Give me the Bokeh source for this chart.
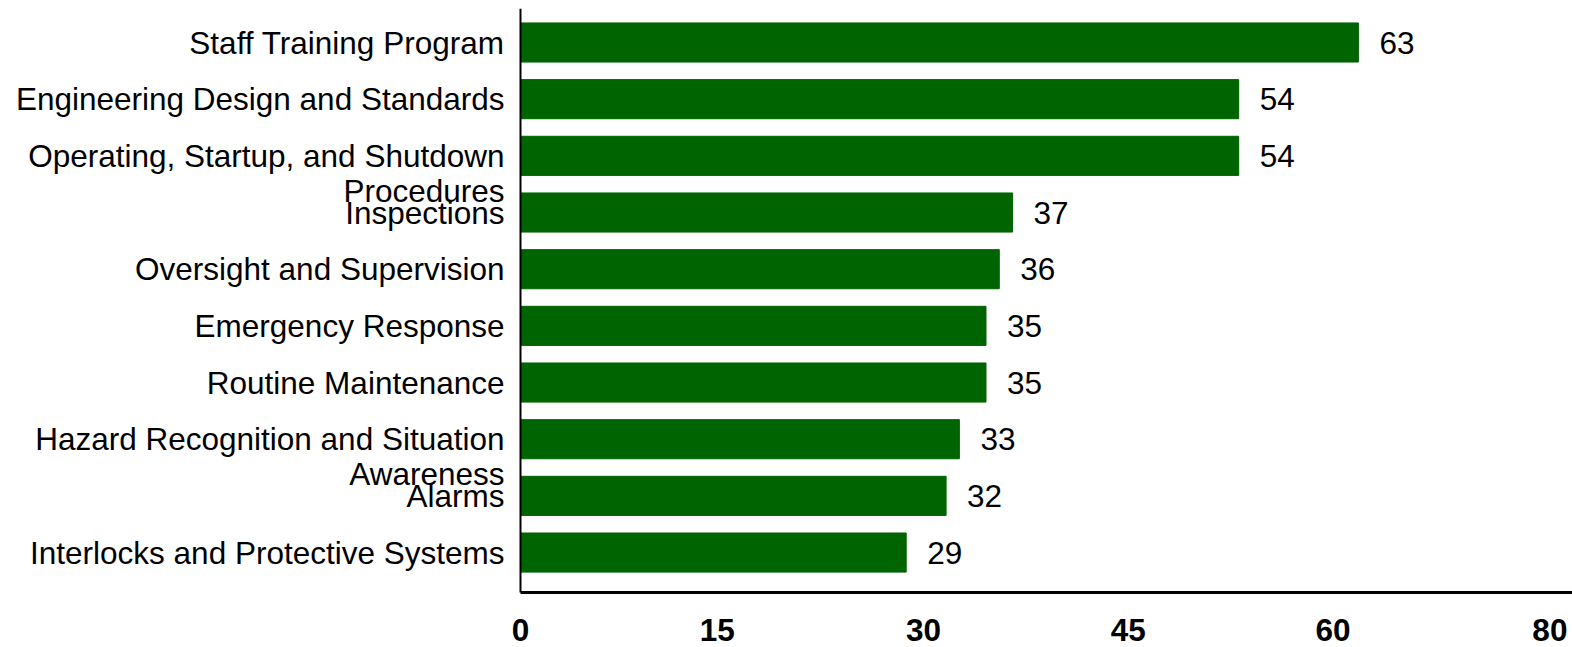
from bokeh.plotting import figure
from bokeh.models import Range1d, Label, ColumnDataSource, FixedTicker, AllLabels
from bokeh.embed import file_html
from bokeh.resources import INLINE

categories = [
    "Staff Training Program",
    "Engineering Design and Standards",
    "Operating, Startup, and Shutdown\nProcedures",
    "Inspections",
    "Oversight and Supervision",
    "Emergency Response",
    "Routine Maintenance",
    "Hazard Recognition and Situation\nAwareness",
    "Alarms",
    "Interlocks and Protective Systems",
]
values = [63, 54, 54, 37, 36, 35, 35, 33, 32, 29]
tick_labels = ["0", "15", "30", "45", "60", "80"]
tick_positions = [0, 14.8, 30.3, 45.7, 61.1, 77.4]

n = len(categories)
ys = [n - 1 - i for i in range(n)]
LINE_STEP = 0.618  # second line of a wrapped label, in category units

# layout geometry (pixels)
W, H, TOP, AXIS_PX = 1572, 647, 8, 592
ZERO_PX, FRAME_LEFT = 520, 505
x_end = 79.1
ux = (W - ZERO_PX) / x_end
x_start = -(ZERO_PX - FRAME_LEFT) / ux

y_top = n - 0.4
y0 = -0.705
uy = (AXIS_PX - TOP) / (y_top - y0)
y_start = y0 - (H - AXIS_PX) / uy

ytick_pos = []
ytick_txt = {}
for yi, c in zip(ys, categories):
    for k, part in enumerate(c.split("\n")):
        pos = float(yi) - k * LINE_STEP
        ytick_pos.append(pos)
        ytick_txt[pos] = part

src = ColumnDataSource(dict(y=ys, v=values))

p = figure(width=W, height=H, output_backend="svg", toolbar_location=None,
           x_range=Range1d(x_start, x_end), y_range=Range1d(y_start, y_top),
           min_border_left=FRAME_LEFT, min_border_right=0, min_border_top=TOP,
           min_border_bottom=0)
p.outline_line_color = None
p.xgrid.visible = False
p.ygrid.visible = False
p.background_fill_color = "white"
p.border_fill_color = "white"
p.xaxis.visible = False

p.hbar(y="y", right="v", left=0, height=0.69, color="#006400", source=src)

FONT = "Liberation Sans"
FS = "31.5px"

ax = p.yaxis[0]
ax.major_tick_out = 0
ax.major_tick_in = 0
ax.minor_tick_out = 0
ax.minor_tick_in = 0
ax.axis_line_color = None
ax.major_label_text_font = FONT
ax.major_label_text_font_size = FS
ax.major_label_text_color = "black"
ax.major_label_policy = AllLabels()
ax.ticker = FixedTicker(ticks=ytick_pos, minor_ticks=[])
ax.major_label_overrides = ytick_txt
ax.major_label_standoff = 16 - (ZERO_PX - FRAME_LEFT)

# axis lines: left one at x = 0, bottom one at y0
p.segment(x0=[0], y0=[y0], x1=[0], y1=[y_top], line_color="black", line_width=2)
p.segment(x0=[0], y0=[y0], x1=[x_end], y1=[y0], line_color="black", line_width=3)

# x tick labels
for tx, tl in zip(tick_positions, tick_labels):
    p.add_layout(Label(x=tx, y=y0, text=tl, y_offset=-37, text_align="center",
                       text_baseline="middle", text_font=FONT, text_font_size=FS,
                       text_font_style="bold", text_color="black"))

# value labels
for yi, v in zip(ys, values):
    p.add_layout(Label(x=v, y=yi, text=str(v), x_offset=21, text_align="left",
                       text_baseline="middle", text_font=FONT, text_font_size=FS,
                       text_color="black"))

open("out.html", "w").write(file_html(p, INLINE))
